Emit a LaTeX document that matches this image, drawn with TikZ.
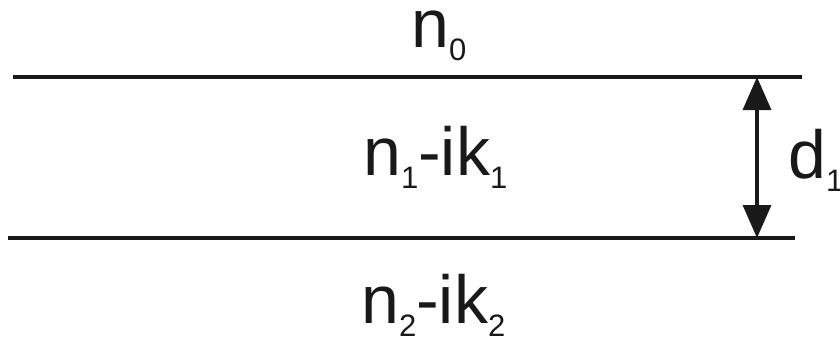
\documentclass[tikz,border=0pt]{standalone}
\usepackage{fontspec}
\setmainfont{Liberation Sans}
\usetikzlibrary{arrows.meta}
\newcommand{\lsub}[1]{{\fontsize{31}{31}\selectfont\raisebox{-13pt}{#1}}}
\tikzset{
  layerline/.style={line width=3.5pt, color=black!90},
  lbl/.style={inner sep=0pt, anchor=base west, font=\fontsize{68}{68}\selectfont, text=black!90},
  dimarrow/.style={line width=3.5pt, color=black!90, {Triangle[length=33pt,width=28pt]}-{Triangle[length=33pt,width=28pt]}}
}
\begin{document}
\begin{tikzpicture}[x=1pt,y=-1pt]
\useasboundingbox (0,0) rectangle (840,338);
\coordinate (t1) at (13,77);
\coordinate (t2) at (802,77);
\coordinate (b1) at (8,238);
\coordinate (b2) at (795,238);
\coordinate (at) at (757,77);
\coordinate (ab) at (757,238);
\draw[layerline] (t1) -- (t2);
\draw[layerline] (b1) -- (b2);
\draw[dimarrow] (at) -- (ab);
\node[lbl] (n0) at (411,47) {n\lsub{0}};
\node[lbl] (n1) at (363,175) {n\lsub{1}-ik\lsub{1}};
\node[lbl] (n2) at (361,323) {n\lsub{2}-ik\lsub{2}};
\node[lbl] (d1) at (788,178) {d\lsub{1}};
\end{tikzpicture}
\end{document}
